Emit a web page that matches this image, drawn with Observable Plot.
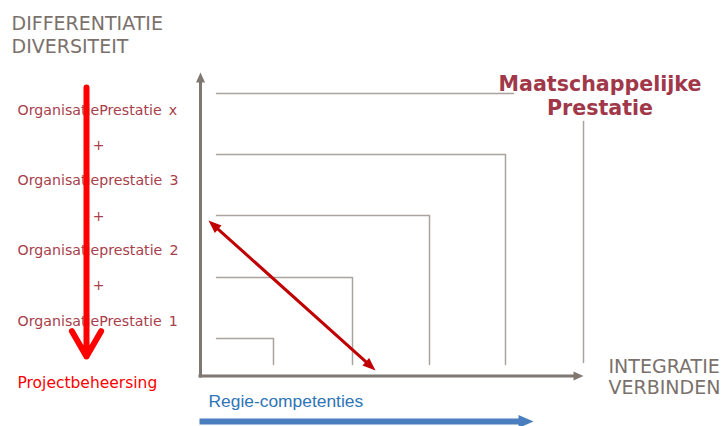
<!DOCTYPE html>
<html><head><meta charset="utf-8">
<script src="https://cdn.jsdelivr.net/npm/d3@7"></script>
<script src="https://cdn.jsdelivr.net/npm/@observablehq/plot@0.6"></script>
<style>html,body{margin:0;padding:0;background:#fff;} #chart svg{display:block;}</style>
</head><body><div id="chart"></div>
<script>
// Diagram units: origin at the corner of the two axes, x to the right, y upwards.
const yTitle = ["DIFFERENTIATIE", "DIVERSITEIT"];
const yTitlePos = [353, 330];
const xTitle = ["INTEGRATIE", "VERBINDEN"];
const xTitlePos = [10, -11];
const leftLabels = ["OrganisatiePrestatie\u2002x", "Organisatieprestatie\u20023", "Organisatieprestatie\u20022", "OrganisatiePrestatie\u20021"];
const leftLabelPos = [265.6, 195.6, 125.6, 54.6];
const plusPos = [231, 160, 91];
const bottomLabel = ["Projectbeheersing"];
const topRightLabel = ["Maatschappelijke", "Prestatie"];
const topRightPos = [292.4, 268.4];
const regieLabel = ["Regie-competenties"];

// nested frames (one per level)
const frameTop = [38, 99, 161, 222, 283];
const frameRight = [73, 152, 229, 305, 313];
const frameHasSide = [true, true, true, true, false];
const outerSide = [383, 255, 14];   // x, top, bottom
const frameLeft = 16, frameBottom = 12;

// axes and arrows (tips)
const yAxisSeg = [0, -1, 304];      // x, y from, y tip
const xAxisSeg = [0.5, -2, 383];    // y, x from, x tip
const diagonalSeg = [8, 156, 175, 6]; // x1,y1 (tip) -> x2,y2 (tip)
const redArrowSeg = [-114, 289, 20];  // x, y from, y tip
const blueArrowSeg = [-45, -1, 333];  // y, x from, x tip

const X0 = -200, X1 = 523, Y0 = -50, Y1 = 376;
const W = 723, H = 426;
const px = W / (X1 - X0), py = H / (Y1 - Y0);

function head(len, halfW, deg) {
  const a = deg * Math.PI / 180, c = Math.cos(a), s = Math.sin(a);
  return {draw(ctx) {
    ctx.moveTo(0, 0);
    ctx.lineTo(-len * c + halfW * s, -len * s - halfW * c);
    ctx.lineTo(-len * c - halfW * s, -len * s + halfW * c);
    ctx.closePath();
  }};
}

const frameLines = [];
frameTop.forEach((t, i) => {
  frameLines.push({id: i, x: frameLeft, y: t});
  frameLines.push({id: i, x: frameRight[i], y: t});
  if (frameHasSide[i]) frameLines.push({id: i, x: frameRight[i], y: frameBottom});
});
frameLines.push({id: 9, x: outerSide[0], y: outerSide[1]}, {id: 9, x: outerSide[0], y: outerSide[2]});

// diagonal double arrow
const [dx1, dy1, dx2, dy2] = diagonalSeg;
const sdx = (dx2 - dx1) * px, sdy = -(dy2 - dy1) * py;
const dlen = Math.hypot(sdx, sdy);
const ux = sdx / dlen, uy = sdy / dlen;
const degEnd = Math.atan2(sdy, sdx) * 180 / Math.PI;
const degStart = Math.atan2(-sdy, -sdx) * 180 / Math.PI;
const pull = 9;
const diagShaft = [{
  x1: dx1 + ux * pull / px, y1: dy1 - uy * pull / py,
  x2: dx2 - ux * pull / px, y2: dy2 + uy * pull / py
}];

const axisColor = "#7f7772";
const textGray = "#7a716c";
const rose = "#a8404c";
const gray = "DejaVu Sans, Verdana, sans-serif";

const chart = Plot.plot({
  width: W, height: H, margin: 0,
  x: {domain: [X0, X1], axis: null},
  y: {domain: [Y0, Y1], axis: null},
  style: {background: "white", fontFamily: gray, overflow: "visible"},
  marks: [
    Plot.line(frameLines, {x: "x", y: "y", z: "id", stroke: "#aaa29d", strokeWidth: 1.5}),
    // y axis
    Plot.link([yAxisSeg], {x1: d => d[0], x2: d => d[0], y1: d => d[1], y2: d => d[2] - 6, stroke: axisColor, strokeWidth: 3}),
    Plot.dot([yAxisSeg], {x: d => d[0], y: d => d[2], r: 1, symbol: head(10, 4.5, -90), fill: axisColor, stroke: "none"}),
    // x axis
    Plot.link([xAxisSeg], {y1: d => d[0], y2: d => d[0], x1: d => d[1], x2: d => d[2] - 6, stroke: axisColor, strokeWidth: 3}),
    Plot.dot([xAxisSeg], {y: d => d[0], x: d => d[2], r: 1, symbol: head(10, 4.5, 0), fill: axisColor, stroke: "none"}),
    // diagonal
    Plot.link(diagShaft, {x1: "x1", y1: "y1", x2: "x2", y2: "y2", stroke: "#c00000", strokeWidth: 3}),
    Plot.dot([diagonalSeg], {x: d => d[0], y: d => d[1], r: 1, symbol: head(13, 5, degStart), fill: "#c00000", stroke: "none"}),
    Plot.dot([diagonalSeg], {x: d => d[2], y: d => d[3], r: 1, symbol: head(13, 5, degEnd), fill: "#c00000", stroke: "none"}),
    // texts
    Plot.text(yTitle, {x: -189, y: (d, i) => yTitlePos[i], text: d => d, textAnchor: "start", fontSize: 19, fill: textGray}),
    Plot.text(xTitle, {x: 408, y: (d, i) => xTitlePos[i], text: d => d, textAnchor: "start", fontSize: 19, fill: textGray}),
    Plot.text(leftLabels, {x: -183, y: (d, i) => leftLabelPos[i], text: d => d, textAnchor: "start", fontSize: 14.2, fill: rose}),
    Plot.text(plusPos, {x: -102, y: d => d, text: () => "+", textAnchor: "middle", fontSize: 14, fill: rose}),
    Plot.text(bottomLabel, {x: -183, y: -7, text: d => d, textAnchor: "start", fontSize: 15.5, fill: "#ff0000"}),
    Plot.text(topRightLabel, {x: 399.5, y: (d, i) => topRightPos[i], text: d => d, textAnchor: "middle", fontSize: 20.6, fontWeight: "bold", fill: "#a0384a"}),
    Plot.text(regieLabel, {x: 8, y: -24.6, text: d => d, textAnchor: "start", fontSize: 17.4, fill: "#2e75b6", fontFamily: "Liberation Sans, Arial, sans-serif"}),
    // red vertical arrow
    Plot.arrow([redArrowSeg], {x1: d => d[0], x2: d => d[0], y1: d => d[1], y2: d => d[2], stroke: "#ff0000", strokeWidth: 6, headLength: 7.3, headAngle: 60}),
    // blue arrow
    Plot.link([blueArrowSeg], {y1: d => d[0], y2: d => d[0], x1: d => d[1], x2: d => d[2] - 12, stroke: "#4a7ebf", strokeWidth: 6}),
    Plot.dot([blueArrowSeg], {y: d => d[0], x: d => d[2], r: 1, symbol: head(15, 6.5, 0), fill: "#4a7ebf", stroke: "none"})
  ]
});
document.getElementById("chart").append(chart);
</script>
</body></html>
